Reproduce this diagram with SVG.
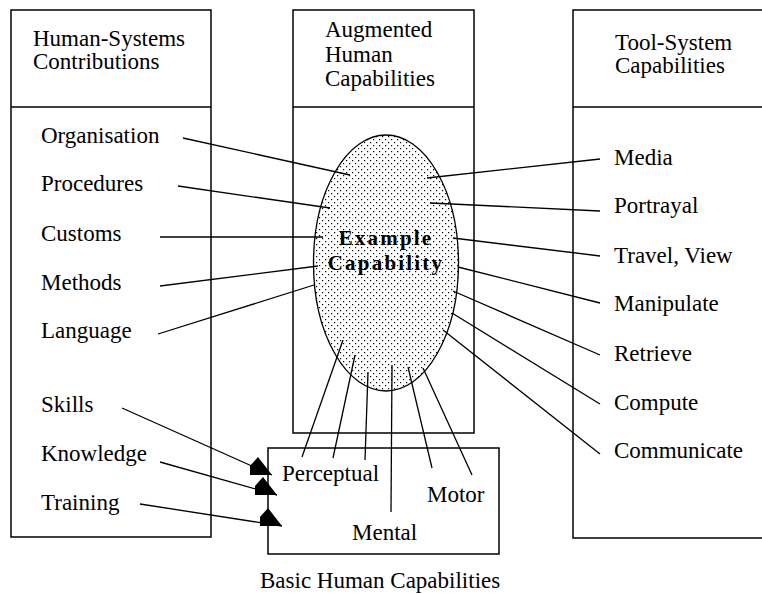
<svg xmlns="http://www.w3.org/2000/svg" width="762" height="594" viewBox="0 0 762 594">
<style>
.box{fill:none;stroke:#000;stroke-width:1.5}
.t{font-family:"Liberation Serif","DejaVu Serif","Times New Roman",serif;font-size:23px;fill:#000}
.b{font-family:"Liberation Serif","DejaVu Serif","Times New Roman",serif;font-size:21px;font-weight:bold;fill:#000;letter-spacing:2.2px}
.c line{stroke:#000;stroke-width:1.3}
</style>
<defs>
<pattern id="dots" width="6" height="6" patternUnits="userSpaceOnUse">
<rect x="1" y="1" width="1.2" height="1.2" fill="#000"/>
<rect x="4" y="4" width="1.2" height="1.2" fill="#000"/>
</pattern>
<marker id="ah" markerUnits="userSpaceOnUse" markerWidth="30" markerHeight="30" refX="24" refY="20" orient="0" overflow="visible">
<path d="M24,20 L2,20 L2,11 L10,2 Z" fill="#000"/>
</marker>
</defs>
<rect width="762" height="594" fill="#fff"/>
<g id="human-systems">
<rect class="box" x="11" y="10" width="200" height="527"/>
<line x1="11" y1="107" x2="211" y2="107" stroke="#000" stroke-width="1.5"/>
<text class="t" x="33" y="46">Human-Systems</text>
<text class="t" x="33" y="69">Contributions</text>
<text class="t" x="41" y="143">Organisation</text>
<text class="t" x="41" y="191">Procedures</text>
<text class="t" x="41" y="241">Customs</text>
<text class="t" x="41" y="290">Methods</text>
<text class="t" x="41" y="338">Language</text>
<text class="t" x="41" y="412">Skills</text>
<text class="t" x="41" y="461">Knowledge</text>
<text class="t" x="41" y="510">Training</text>
</g>
<g id="augmented">
<rect class="box" x="293" y="10" width="181" height="423"/>
<line x1="293" y1="107" x2="474" y2="107" stroke="#000" stroke-width="1.5"/>
<text class="t" x="325" y="37">Augmented</text>
<text class="t" x="325" y="62">Human</text>
<text class="t" x="325" y="86">Capabilities</text>
</g>
<g id="tool-system">
<rect class="box" x="573" y="10" width="200" height="528"/>
<line x1="573" y1="107" x2="773" y2="107" stroke="#000" stroke-width="1.5"/>
<text class="t" x="615" y="50">Tool-System</text>
<text class="t" x="615" y="73">Capabilities</text>
<text class="t" x="614" y="165">Media</text>
<text class="t" x="614" y="213">Portrayal</text>
<text class="t" x="614" y="263">Travel, View</text>
<text class="t" x="614" y="311">Manipulate</text>
<text class="t" x="614" y="361">Retrieve</text>
<text class="t" x="614" y="410">Compute</text>
<text class="t" x="614" y="458">Communicate</text>
</g>
<g id="basic">
<rect class="box" x="268" y="448" width="231" height="106" fill="#fff"/>
<text class="t" x="282" y="481">Perceptual</text>
<text class="t" x="427" y="502">Motor</text>
<text class="t" x="352" y="540">Mental</text>
<text class="t" x="260" y="588">Basic Human Capabilities</text>
</g>
<g id="example">
<ellipse cx="386" cy="263" rx="72.5" ry="128" fill="url(#dots)" stroke="#000" stroke-width="1.3"/>
<text class="b" x="386" y="245" text-anchor="middle">Example</text>
<text class="b" x="386" y="270" text-anchor="middle">Capability</text>
</g>
<g id="connectors" class="c">
<line x1="183" y1="138" x2="350" y2="175"/>
<line x1="178" y1="186" x2="330" y2="208"/>
<line x1="160" y1="237" x2="323" y2="237"/>
<line x1="160" y1="286" x2="318" y2="266"/>
<line x1="158" y1="334" x2="314" y2="285"/>
<line x1="600" y1="159" x2="427" y2="178"/>
<line x1="600" y1="211" x2="430" y2="203"/>
<line x1="600" y1="256" x2="453" y2="238"/>
<line x1="600" y1="303" x2="458" y2="267"/>
<line x1="600" y1="355" x2="453" y2="291"/>
<line x1="600" y1="404" x2="452" y2="313"/>
<line x1="600" y1="454" x2="443" y2="330"/>
<line x1="343" y1="340" x2="302" y2="457"/>
<line x1="355" y1="355" x2="333" y2="458"/>
<line x1="368" y1="372" x2="365" y2="460"/>
<line x1="392" y1="365" x2="391" y2="512"/>
<line x1="408" y1="367" x2="432" y2="468"/>
<line x1="423" y1="368" x2="472" y2="475"/>
<line x1="122" y1="408" x2="272" y2="475" marker-end="url(#ah)"/>
<line x1="160" y1="462" x2="277" y2="495" marker-end="url(#ah)"/>
<line x1="140" y1="504" x2="282" y2="526" marker-end="url(#ah)"/>
</g>
</svg>
